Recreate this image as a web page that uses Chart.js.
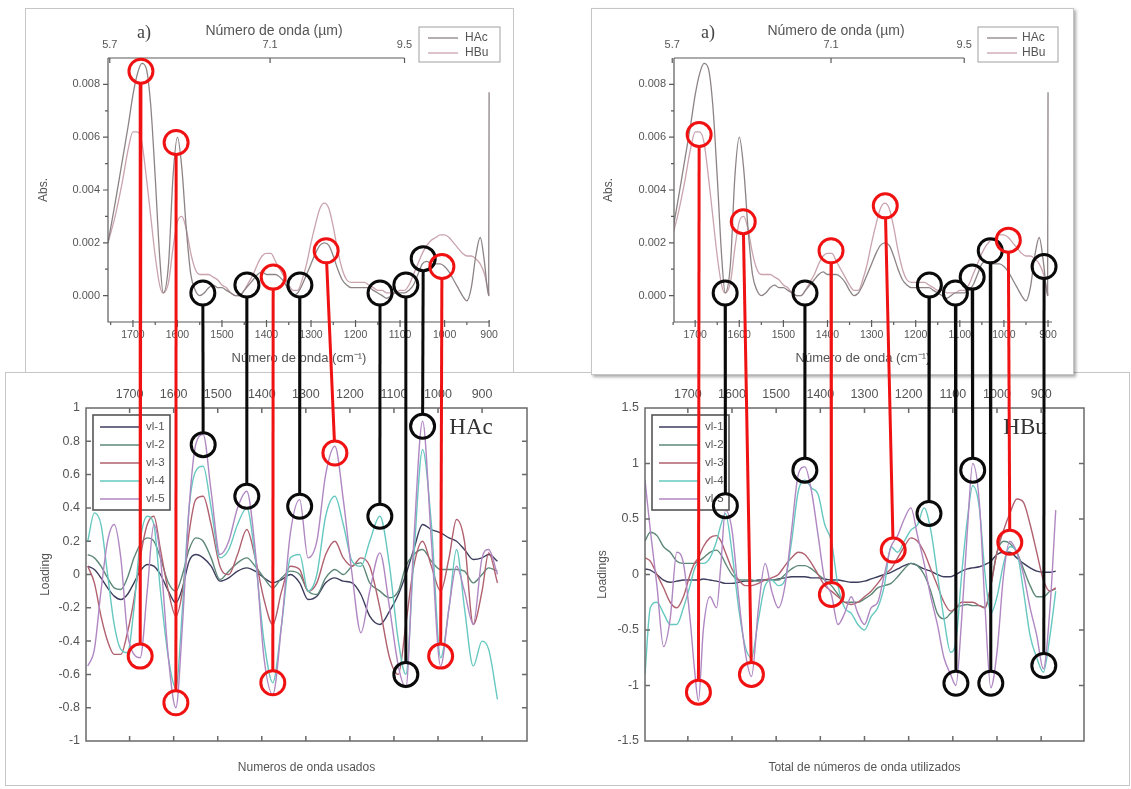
<!DOCTYPE html>
<html>
<head>
<meta charset="utf-8">
<script src="https://cdn.jsdelivr.net/npm/chart.js@4.4.1/dist/chart.umd.min.js"></script>
<style>
html, body { margin: 0; padding: 0; background: #fff; }
body { width: 1131px; height: 789px; position: relative; overflow: hidden; font-family: "Liberation Sans", Arial, sans-serif; }
.box { position: absolute; background: #fff; border: 1px solid #c6c6c6; box-sizing: border-box; }
canvas { position: absolute; z-index: 5; }
</style>
</head>
<body>
<div class="box" style="left:25px;top:8px;width:489px;height:366px;z-index:1"></div>
<div class="box" style="left:5px;top:372px;width:1125px;height:414px;z-index:2"></div>
<div class="box" style="left:591px;top:8px;width:483px;height:367px;z-index:3;box-shadow:2px 2px 3px rgba(0,0,0,0.35)"></div>
<canvas id="cTL" width="488" height="364" style="left:25px;top:8px"></canvas>
<canvas id="cTR" width="482" height="368" style="left:591px;top:8px"></canvas>
<canvas id="cBL" width="555" height="413" style="left:5px;top:372px"></canvas>
<canvas id="cBR" width="569" height="413" style="left:560px;top:372px"></canvas>
<canvas id="cOV" width="1131" height="789" style="left:0;top:0;z-index:10"></canvas>
<script>
// Espectros FTIR (HAc / HBu) y loadings vl-1..vl-5, con marcas de bandas seleccionadas.

// ---- espectros de absorbancia (paneles superiores) ----
var TOP_WN = [1756, 1740, 1725, 1710, 1700, 1690, 1680, 1670, 1660, 1650, 1640, 1632, 1620, 1610, 1600, 1590, 1580, 1570, 1560, 1550,
  1540, 1530, 1520, 1510, 1500, 1490, 1480, 1470, 1460, 1450, 1440, 1430, 1420, 1410, 1400, 1390, 1380, 1370, 1360, 1350,
  1340, 1330, 1320, 1310, 1300, 1290, 1280, 1270, 1260, 1250, 1240, 1230, 1220, 1210, 1200, 1190, 1180, 1170, 1160, 1150,
  1140, 1130, 1120, 1110, 1100, 1090, 1080, 1070, 1060, 1050, 1040, 1030, 1020, 1010, 1000, 990, 980, 970, 960, 950,
  940, 930, 920, 910, 905, 901, 900];
var HAC_ABS = [0.0020, 0.0035, 0.0050, 0.0065, 0.0076, 0.0084, 0.0088, 0.0086, 0.0072, 0.0045, 0.0015, 0.0001, 0.0012, 0.0045, 0.0060, 0.0048, 0.0025, 0.0008, 0.0002, 0.0000,
  0.0001, 0.0003, 0.0004, 0.0003, 0.0003, 0.0002, 0.0001, 0.0000, 0.0000, 0.0002, 0.0004, 0.0006, 0.0008, 0.0009, 0.0008, 0.0008, 0.0008, 0.0007, 0.0005, 0.0002,
  0.0000, 0.0001, 0.0004, 0.0008, 0.0012, 0.0016, 0.0019, 0.0020, 0.0019, 0.0015, 0.0010, 0.0006, 0.0004, 0.0003, 0.0003, 0.0003, 0.0003, 0.0003, 0.0002, 0.0001,
  0.0000, -0.0001, 0.0000, 0.0001, 0.0001, 0.0001, 0.0002, 0.0004, 0.0008, 0.0012, 0.0013, 0.0012, 0.0012, 0.0012, 0.0011, 0.0009, 0.0006, 0.0003, 0.0000, -0.0002,
  0.0003, 0.0015, 0.0022, 0.0012, 0.0004, 0.0000, 0.0077];
var HBU_ABS = [0.0020, 0.0030, 0.0042, 0.0056, 0.0062, 0.0062, 0.0058, 0.0045, 0.0030, 0.0015, 0.0004, 0.0001, 0.0005, 0.0018, 0.0028, 0.0030, 0.0025, 0.0016, 0.0010, 0.0008,
  0.0008, 0.0008, 0.0007, 0.0006, 0.0004, 0.0003, 0.0001, 0.0000, 0.0000, 0.0002, 0.0005, 0.0008, 0.0012, 0.0015, 0.0016, 0.0016, 0.0013, 0.0010, 0.0007, 0.0004,
  0.0002, 0.0002, 0.0006, 0.0012, 0.0020, 0.0027, 0.0033, 0.0035, 0.0033, 0.0026, 0.0017, 0.0010, 0.0006, 0.0005, 0.0005, 0.0005, 0.0005, 0.0004, 0.0003, 0.0002,
  0.0002, 0.0001, 0.0001, 0.0001, 0.0002, 0.0002, 0.0004, 0.0008, 0.0012, 0.0016, 0.0019, 0.0021, 0.0022, 0.0023, 0.0023, 0.0022, 0.0020, 0.0018, 0.0016, 0.0015,
  0.0015, 0.0014, 0.0012, 0.0008, 0.0004, 0.0001, 0.0000];

var SPEC_X_TICKS  = [1700, 1600, 1500, 1400, 1300, 1200, 1100, 1000, 900];
var SPEC_X_MINOR  = [1750, 1650, 1550, 1450, 1350, 1250, 1150, 1050, 950];
var SPEC_Y_TICKS  = [0, 0.002, 0.004, 0.006, 0.008];
var SPEC_Y_MINOR  = [0.001, 0.003, 0.005, 0.007];
var TOP_UM_POS    = [1752, 1392, 1090];
var TOP_UM_LABELS = ['5.7', '7.1', '9.5'];

// ---- loadings HAc ----
var HAC_WN = [1795, 1780, 1765, 1750, 1735, 1720, 1705, 1690, 1676, 1660, 1645, 1630, 1612, 1595, 1580, 1565, 1550, 1533, 1515, 1495,
  1475, 1455, 1434, 1415, 1395, 1375, 1355, 1335, 1314, 1295, 1275, 1255, 1234, 1215, 1195, 1175, 1155, 1132, 1110, 1090,
  1073, 1055, 1035, 1015, 994, 975, 958, 940, 920, 900, 885, 865];
var HAC_VL1 = [0.05, 0.03, -0.02, -0.08, -0.13, -0.15, -0.12, -0.05, 0.02, 0.06, 0.05, 0.0, -0.1, -0.17, -0.08, 0.08, 0.12, 0.1, 0.05, -0.04,
  -0.02, 0.02, 0.04, 0.02, -0.02, -0.05, -0.03, 0.0, -0.05, -0.15, -0.13, -0.05, -0.02, -0.04, -0.05, -0.12, -0.25, -0.3, -0.22, -0.12,
  0.0, 0.15, 0.3, 0.27, 0.25, 0.22, 0.2, 0.15, 0.09, 0.1, 0.12, 0.08];
var HAC_VL2 = [0.12, 0.1, 0.05, -0.02, -0.08, -0.09, -0.02, 0.1, 0.18, 0.22, 0.2, 0.1, -0.05, -0.1, 0.0, 0.15, 0.22, 0.2, 0.1, -0.03,
  0.02, 0.07, 0.1, 0.05, -0.02, -0.08, -0.02, 0.02, 0.0, -0.1, -0.12, -0.02, 0.03, 0.0, 0.05, 0.07, -0.05, -0.1, -0.14, -0.1,
  0.05, 0.12, 0.15, 0.08, 0.03, 0.03, 0.03, 0.02, -0.05, 0.0, 0.04, 0.02];
var HAC_VL3 = [0.05, -0.05, -0.25, -0.4, -0.48, -0.48, -0.35, -0.15, 0.1, 0.3, 0.35, 0.15, -0.1, -0.25, -0.1, 0.25, 0.45, 0.47, 0.3, 0.05,
  0.0, 0.12, 0.27, 0.1, -0.15, -0.3, -0.1, 0.05, 0.03, -0.1, -0.05, 0.12, 0.2, 0.1, 0.05, 0.1, 0.05, -0.2, -0.5, -0.6,
  -0.3, 0.05, 0.2, 0.05, -0.1, 0.1, 0.33, 0.2, -0.3, -0.1, 0.13, -0.05];
var HAC_VL4 = [0.2, 0.37, 0.3, 0.0, -0.3, -0.45, -0.47, -0.2, 0.2, 0.35, 0.3, -0.1, -0.5, -0.68, -0.2, 0.4, 0.62, 0.65, 0.4, 0.1,
  0.15, 0.3, 0.4, 0.1, -0.4, -0.65, -0.3, 0.1, 0.12, -0.1, 0.0, 0.35, 0.47, 0.3, 0.08, 0.05, 0.2, 0.35, 0.05, -0.4,
  -0.6, 0.1, 0.75, 0.3, -0.5, -0.2, 0.15, -0.2, -0.55, -0.4, -0.45, -0.75];
var HAC_VL5 = [-0.55, -0.45, -0.1, 0.2, 0.3, 0.1, -0.35, -0.48, -0.5, -0.1, 0.3, 0.1, -0.5, -0.8, -0.3, 0.4, 0.78, 0.84, 0.5, 0.12,
  0.2, 0.4, 0.5, 0.15, -0.5, -0.72, -0.3, 0.25, 0.45, 0.1, 0.2, 0.6, 0.77, 0.45, 0.0, -0.35, -0.1, 0.13, -0.2, -0.55,
  -0.68, 0.2, 0.92, 0.2, -0.55, -0.2, 0.05, -0.1, -0.3, 0.1, 0.15, 0.0];

// ---- loadings HBu ----
var HBU_WN = [1797, 1785, 1770, 1755, 1740, 1725, 1710, 1695, 1685, 1676, 1665, 1650, 1635, 1625, 1615, 1600, 1585, 1570, 1556, 1540,
  1525, 1510, 1495, 1480, 1465, 1450, 1435, 1420, 1405, 1390, 1375, 1360, 1345, 1330, 1315, 1300, 1285, 1270, 1255, 1240,
  1225, 1210, 1195, 1180, 1165, 1150, 1135, 1120, 1105, 1093, 1080, 1067, 1055, 1040, 1027, 1014, 1000, 985, 971, 955,
  940, 925, 910, 895, 880, 867];
var HBU_VL1 = [0.05, 0.04, 0.0, -0.05, -0.07, -0.06, -0.05, -0.05, -0.05, -0.05, -0.04, -0.05, -0.06, -0.07, -0.08, -0.08, -0.07, -0.06, -0.06, -0.05,
  -0.05, -0.05, -0.04, -0.03, -0.02, -0.02, -0.02, -0.03, -0.03, -0.04, -0.05, -0.05, -0.06, -0.07, -0.07, -0.06, -0.04, -0.02, 0.0, 0.02,
  0.05, 0.08, 0.1, 0.08, 0.05, 0.03, 0.0, -0.02, -0.02, 0.0, 0.03, 0.05, 0.06, 0.07, 0.09, 0.12, 0.18, 0.2, 0.2, 0.15,
  0.1, 0.06, 0.03, 0.02, 0.02, 0.03];
var HBU_VL2 = [0.3, 0.38, 0.35, 0.25, 0.2, 0.12, 0.1, 0.1, 0.1, 0.12, 0.15, 0.2, 0.22, 0.18, 0.1, 0.0, -0.05, -0.05, -0.05, -0.06,
  -0.05, -0.05, -0.05, 0.0, 0.05, 0.08, 0.08, 0.05, 0.0, -0.05, -0.1, -0.18, -0.25, -0.25, -0.25, -0.22, -0.18, -0.12, -0.1, -0.08,
  -0.02, 0.05, 0.1, 0.08, 0.0, -0.15, -0.35, -0.4, -0.35, -0.3, -0.28, -0.27, -0.28, -0.28, -0.3, -0.1, 0.2, 0.3, 0.28, 0.2,
  0.05, -0.1, -0.2, -0.2, -0.15, -0.13];
var HBU_VL3 = [0.15, 0.12, 0.0, -0.12, -0.25, -0.3, -0.2, 0.0, 0.1, 0.15, 0.25, 0.33, 0.35, 0.3, 0.2, 0.05, -0.05, -0.1, -0.1, -0.08,
  -0.05, -0.03, 0.0, 0.08, 0.15, 0.2, 0.18, 0.1, 0.0, -0.1, -0.15, -0.2, -0.25, -0.27, -0.25, -0.2, -0.15, -0.08, 0.0, 0.05,
  0.15, 0.25, 0.33, 0.3, 0.2, 0.05, -0.1, -0.25, -0.33, -0.3, -0.25, -0.25, -0.25, -0.28, -0.3, -0.1, 0.2, 0.4, 0.55, 0.68,
  0.65, 0.45, 0.2, -0.05, -0.15, -0.12];
var HBU_VL4 = [-0.9, -0.3, -0.25, -0.35, -0.45, -0.45, -0.3, -0.1, 0.05, 0.1, 0.1, 0.15, 0.3, 0.45, 0.55, 0.2, -0.3, -0.65, -0.75, -0.4,
  -0.1, -0.05, -0.1, -0.05, 0.3, 0.75, 0.85, 0.78, 0.72, 0.45, 0.3, -0.1, -0.3, -0.35, -0.45, -0.5, -0.38, -0.3, -0.1, 0.25,
  0.2, 0.3, 0.4, 0.45, 0.6, 0.4, 0.0, -0.4, -0.7, -0.6, 0.0, 0.5, 0.8, 0.6, 0.0, -0.35, -0.2, 0.1, 0.25, 0.2,
  -0.15, -0.55, -0.75, -0.88, -0.55, -0.15];
var HBU_VL5 = [0.85, 0.4, -0.1, -0.65, -0.4, 0.2, 0.1, -0.4, -0.85, -1.14, -0.5, -0.2, -0.3, 0.1, 0.58, 0.4, -0.2, -0.7, -0.92, -0.3,
  0.1, -0.15, -0.3, -0.1, 0.4, 0.9, 0.97, 0.75, 0.35, -0.05, -0.18, -0.45, -0.35, -0.2, -0.35, -0.45, -0.3, -0.25, 0.0, 0.25,
  0.35, 0.5, 0.6, 0.35, 0.1, -0.2, -0.45, -0.75, -0.9, -1.0, -0.4, 0.4, 1.0, 0.65, -0.3, -1.02, -0.7, 0.0, 0.3, 0.2,
  0.0, -0.3, -0.55, -0.85, -0.3, 0.58];

var LOAD_X_TICKS = [1700, 1600, 1500, 1400, 1300, 1200, 1100, 1000, 900];
var HAC_Y_TICKS  = [-1, -0.8, -0.6, -0.4, -0.2, 0, 0.2, 0.4, 0.6, 0.8, 1];
var HBU_Y_TICKS  = [-1.5, -1, -0.5, 0, 0.5, 1, 1.5];

// ---- bandas marcadas (círculo arriba en el espectro, círculo abajo en los loadings) ----
var MK_HAC_KIND   = ['r', 'r', 'k', 'k', 'r', 'k', 'r', 'k', 'k', 'k', 'r'];
var MK_HAC_TOP_WN = [1682, 1603, 1543, 1444, 1385, 1325, 1266, 1145, 1087, 1048, 1006];
var MK_HAC_TOP_Y  = [0.0085, 0.0058, 0.0001, 0.0004, 0.0007, 0.0004, 0.0017, 0.0001, 0.0004, 0.0014, 0.0011];
var MK_HAC_BOT_WN = [1676, 1595, 1533, 1434, 1375, 1314, 1234, 1132, 1073, 1035, 994];
var MK_HAC_BOT_Y  = [-0.49, -0.77, 0.78, 0.47, -0.65, 0.41, 0.73, 0.35, -0.60, 0.89, -0.49];

var MK_HBU_KIND   = ['r', 'k', 'r', 'k', 'r', 'r', 'k', 'k', 'k', 'k', 'r', 'k'];
var MK_HBU_TOP_WN = [1691, 1632, 1591, 1451, 1392, 1269, 1169, 1110, 1072, 1031, 990, 909];
var MK_HBU_TOP_Y  = [0.0061, 0.0001, 0.0028, 0.0001, 0.0017, 0.0034, 0.0004, 0.0001, 0.0007, 0.0017, 0.0021, 0.0011];
var MK_HBU_BOT_WN = [1676, 1615, 1556, 1435, 1375, 1235, 1154, 1093, 1055, 1014, 971, 894];
var MK_HBU_BOT_Y  = [-1.06, 0.62, -0.90, 0.94, -0.18, 0.22, 0.55, -0.98, 0.94, -0.98, 0.29, -0.82];

var VL_COLORS = ['#3d3d5e', '#5d8878', '#b0606e', '#66c8c0', '#b087c2'];
var SANS  = '"Liberation Sans", Arial, sans-serif';
var SERIF = '"Liberation Serif", "Times New Roman", serif';
var RED = '#f01212', BLACK = '#0a0a0a';

function pts(xs, ys) {
  return xs.map(function(x, i) { return { x: x, y: ys[i] }; });
}

function fixTicks(values) {
  return function(scale) { scale.ticks = values.map(function(v) { return { value: v }; }); };
}

function plain(v) { return String(v); }
function fitW(w) { return function(s) { s.width = w; }; }
function fitH(h) { return function(s) { s.height = h; }; }

var decoPlugin = {
  id: 'deco',
  afterDatasetsDraw: function(chart, args, o) {
    if (!o || !o.kind) return;
    var ctx = chart.ctx, a = chart.chartArea, sx = chart.scales.x, sy = chart.scales.y;
    ctx.save();
    ctx.strokeStyle = o.axisColor;
    ctx.lineWidth = o.axisWidth;
    ctx.beginPath();
    if (o.kind === 'spec') {
      var x2 = chart.scales.x2;
      ctx.moveTo(a.left, a.top); ctx.lineTo(a.left, a.bottom); ctx.lineTo(a.right, a.bottom);
      ctx.moveTo(a.left, a.top); ctx.lineTo(x2.getPixelForValue(TOP_UM_POS[TOP_UM_POS.length - 1]), a.top);
      TOP_UM_POS.forEach(function(v) { var p = x2.getPixelForValue(v); ctx.moveTo(p, a.top); ctx.lineTo(p, a.top + 5); });
      SPEC_X_TICKS.forEach(function(v) { var p = sx.getPixelForValue(v); ctx.moveTo(p, a.bottom - 2); ctx.lineTo(p, a.bottom + 5); });
      SPEC_X_MINOR.forEach(function(v) { var p = sx.getPixelForValue(v); ctx.moveTo(p, a.bottom); ctx.lineTo(p, a.bottom + 3); });
      SPEC_Y_TICKS.forEach(function(v) { var p = sy.getPixelForValue(v); ctx.moveTo(a.left - 5, p); ctx.lineTo(a.left, p); });
      SPEC_Y_MINOR.forEach(function(v) { var p = sy.getPixelForValue(v); ctx.moveTo(a.left - 3, p); ctx.lineTo(a.left, p); });
    } else {
      ctx.rect(a.left, a.top, a.right - a.left, a.bottom - a.top);
      LOAD_X_TICKS.forEach(function(v) {
        var p = sx.getPixelForValue(v);
        ctx.moveTo(p, a.top); ctx.lineTo(p, a.top + 5);
        ctx.moveTo(p, a.bottom); ctx.lineTo(p, a.bottom - 5);
      });
      o.yTicks.forEach(function(v) {
        var p = sy.getPixelForValue(v);
        ctx.moveTo(a.left, p); ctx.lineTo(a.left + 5, p);
        ctx.moveTo(a.right, p); ctx.lineTo(a.right - 5, p);
      });
    }
    ctx.stroke();

    var L = o.legend;
    if (L) {
      ctx.fillStyle = '#fff';
      ctx.fillRect(L.x, L.y, L.w, L.h);
      ctx.strokeStyle = L.border;
      ctx.lineWidth = L.borderWidth;
      ctx.strokeRect(L.x, L.y, L.w, L.h);
      ctx.font = L.font;
      ctx.textAlign = 'left';
      ctx.textBaseline = 'middle';
      chart.data.datasets.forEach(function(ds, i) {
        var yy = L.y + L.first + i * L.step;
        ctx.strokeStyle = ds.borderColor;
        ctx.lineWidth = 1.3;
        ctx.beginPath(); ctx.moveTo(L.x + L.l0, yy); ctx.lineTo(L.x + L.l1, yy); ctx.stroke();
        ctx.fillStyle = L.color;
        ctx.fillText(ds.label, L.x + L.tx, yy);
      });
    }
    (o.texts || []).forEach(function(t) {
      ctx.font = t.font;
      ctx.fillStyle = t.color;
      ctx.textAlign = 'center';
      ctx.textBaseline = 'middle';
      ctx.fillText(t.text, t.x, t.y);
    });
    ctx.restore();
  }
};

function specChart(id, cfg) {
  var tickFont = { family: SANS, size: 10.5 };
  return new Chart(document.getElementById(id), {
    type: 'line',
    data: {
      datasets: [
        { label: 'HAc', data: pts(TOP_WN, HAC_ABS), borderColor: '#8d8385', borderWidth: 1.3, pointRadius: 0, cubicInterpolationMode: 'monotone' },
        { label: 'HBu', data: pts(TOP_WN, HBU_ABS), borderColor: '#c9a3ad', borderWidth: 1.3, pointRadius: 0, cubicInterpolationMode: 'monotone' }
      ]
    },
    options: {
      responsive: false, animation: false, events: [],
      layout: { padding: { left: 0, top: 0, right: cfg.padR, bottom: 0 } },
      plugins: {
        legend: { display: false }, tooltip: { enabled: false },
        deco: {
          kind: 'spec', axisColor: '#5a5a5a', axisWidth: 1.2,
          legend: { x: cfg.lgX, y: 19, w: cfg.lgW, h: 35, first: 11, step: 15, l0: 9, l1: 39, tx: cfg.lgTx,
                    border: '#a0a0a0', borderWidth: 1, font: '12px ' + SANS, color: '#555' },
          texts: [
            { text: 'a)', x: cfg.aX, y: 25, font: '18px ' + SERIF, color: '#444' },
            { text: 'Número de onda (µm)', x: cfg.tX, y: 23, font: '14px ' + SANS, color: '#555' }
          ]
        }
      },
      scales: {
        x: {
          type: 'linear', reverse: true, min: cfg.xMin, max: cfg.xMax, position: 'bottom',
          afterBuildTicks: fixTicks(SPEC_X_TICKS), afterFit: fitH(cfg.xH),
          grid: { display: false, drawTicks: false }, border: { display: false },
          ticks: { font: tickFont, color: '#555', padding: 7, maxRotation: 0, callback: plain },
          title: { display: true, text: 'Número de onda (cm⁻¹)', font: { family: SANS, size: 13 }, color: '#555', padding: { bottom: cfg.xTitlePad } }
        },
        x2: {
          type: 'linear', reverse: true, min: cfg.xMin, max: cfg.xMax, position: 'top',
          afterBuildTicks: fixTicks(TOP_UM_POS), afterFit: fitH(50),
          grid: { display: false, drawTicks: false }, border: { display: false },
          ticks: { font: { family: SANS, size: 11 }, color: '#555', padding: 6, maxRotation: 0,
                   callback: function(v, i) { return TOP_UM_LABELS[i]; } }
        },
        y: {
          type: 'linear', min: -0.001, max: 0.009,
          afterBuildTicks: fixTicks(SPEC_Y_TICKS), afterFit: fitW(83),
          grid: { display: false, drawTicks: false }, border: { display: false },
          ticks: { font: { family: SANS, size: 11 }, color: '#555', padding: 8,
                   callback: function(v) { return v.toFixed(3); } },
          title: { display: true, text: 'Abs.', font: { family: SANS, size: 12 }, color: '#555', padding: { top: cfg.yTitlePad } }
        }
      }
    },
    plugins: [decoPlugin]
  });
}

function loadChart(id, cfg) {
  var series = cfg.series.map(function(vals, i) {
    return { label: 'vl-' + (i + 1), data: pts(cfg.wn, vals), borderColor: VL_COLORS[i], borderWidth: 1.4,
             pointRadius: 0, cubicInterpolationMode: 'monotone', order: 5 - i };
  });
  return new Chart(document.getElementById(id), {
    type: 'line',
    data: { datasets: series },
    options: {
      responsive: false, animation: false, events: [],
      layout: { padding: { left: 0, top: 0, right: cfg.padR, bottom: 0 } },
      plugins: {
        legend: { display: false }, tooltip: { enabled: false },
        deco: {
          kind: 'load', axisColor: '#6a6a6a', axisWidth: 1.5, yTicks: cfg.yTicks,
          legend: { x: cfg.yW + 7, y: 43, w: 77, h: 95, first: 12, step: 18, l0: 7, l1: 48, tx: 53,
                    border: '#555', borderWidth: 1.6, font: '11.5px ' + SANS, color: '#555' },
          texts: [ { text: cfg.name, x: cfg.nameX, y: 56, font: '23px ' + SERIF, color: '#333' } ]
        }
      },
      scales: {
        x: {
          type: 'linear', reverse: true, min: cfg.xMin, max: cfg.xMax, position: 'bottom',
          afterBuildTicks: fixTicks(LOAD_X_TICKS), afterFit: fitH(44),
          grid: { display: false, drawTicks: false }, border: { display: false },
          ticks: { display: false },
          title: { display: true, text: cfg.xTitle, font: { family: SANS, size: 12 }, color: '#555', padding: { bottom: 10 } }
        },
        x2: {
          type: 'linear', reverse: true, min: cfg.xMin, max: cfg.xMax, position: 'top',
          afterBuildTicks: fixTicks(LOAD_X_TICKS), afterFit: fitH(36),
          grid: { display: false, drawTicks: false }, border: { display: false },
          ticks: { font: { family: SANS, size: 12.5 }, color: '#555', padding: 6, maxRotation: 0, callback: plain }
        },
        y: {
          type: 'linear', min: cfg.yTicks[0], max: cfg.yTicks[cfg.yTicks.length - 1],
          afterBuildTicks: fixTicks(cfg.yTicks), afterFit: fitW(cfg.yW),
          grid: { display: false, drawTicks: false }, border: { display: false },
          ticks: { font: { family: SANS, size: 12.5 }, color: '#555', padding: 6,
                   callback: function(v) { return String(Math.round(v * 10) / 10); } },
          title: { display: true, text: cfg.yTitle, font: { family: SANS, size: 12 }, color: '#555', padding: { top: cfg.yTitlePad } }
        }
      }
    },
    plugins: [decoPlugin]
  });
}

var chTL = specChart('cTL', { padR: 23, xH: 50, xMin: 898, xMax: 1756, lgX: 394, lgW: 81, lgTx: 46, aX: 119, tX: 249, xTitlePad: 6, yTitlePad: 11 });
var chTR = specChart('cTR', { padR: 21, xH: 54, xMin: 891, xMax: 1748, lgX: 387, lgW: 80, lgTx: 44, aX: 117, tX: 245, xTitlePad: 10, yTitlePad: 10 });
var chBL = loadChart('cBL', { wn: HAC_WN, series: [HAC_VL1, HAC_VL2, HAC_VL3, HAC_VL4, HAC_VL5], yTicks: HAC_Y_TICKS,
  padR: 33, yW: 81, xMin: 798, xMax: 1799, name: 'HAc', nameX: 466, xTitle: 'Numeros de onda usados', yTitle: 'Loading', yTitlePad: 33 });
var chBR = loadChart('cBR', { wn: HBU_WN, series: [HBU_VL1, HBU_VL2, HBU_VL3, HBU_VL4, HBU_VL5], yTicks: HBU_Y_TICKS,
  padR: 45, yW: 85, xMin: 803, xMax: 1797, name: 'HBu', nameX: 465, xTitle: 'Total de números de onda utilizados', yTitle: 'Loadings', yTitlePad: 35 });

// ---- capa de marcas: posiciones sacadas de las escalas de cada gráfico ----
function pagePoint(chart, wn, v) {
  var c = chart.canvas;
  return { x: c.offsetLeft + chart.scales.x.getPixelForValue(wn), y: c.offsetTop + chart.scales.y.getPixelForValue(v) };
}

var R = 12;
var redPts = [], blackPts = [], links = [];

function addMarks(top, bot, kinds, tWn, tY, bWn, bY) {
  kinds.forEach(function(k, i) {
    var p1 = pagePoint(top, tWn[i], tY[i]);
    var p2 = pagePoint(bot, bWn[i], bY[i]);
    (k === 'r' ? redPts : blackPts).push(p1, p2);
    var dx = p2.x - p1.x, dy = p2.y - p1.y, len = Math.sqrt(dx * dx + dy * dy);
    var ux = dx / len, uy = dy / len;
    links.push({
      color: k === 'r' ? RED : BLACK,
      data: [{ x: p1.x + ux * R, y: p1.y + uy * R }, { x: p2.x - ux * R, y: p2.y - uy * R }]
    });
  });
}

addMarks(chTL, chBL, MK_HAC_KIND, MK_HAC_TOP_WN, MK_HAC_TOP_Y, MK_HAC_BOT_WN, MK_HAC_BOT_Y);
addMarks(chTR, chBR, MK_HBU_KIND, MK_HBU_TOP_WN, MK_HBU_TOP_Y, MK_HBU_BOT_WN, MK_HBU_BOT_Y);

var ovSets = [
  { data: redPts, showLine: false, pointRadius: R, pointBorderWidth: 3, pointBorderColor: RED, pointBackgroundColor: 'rgba(0,0,0,0)' },
  { data: blackPts, showLine: false, pointRadius: R, pointBorderWidth: 3, pointBorderColor: BLACK, pointBackgroundColor: 'rgba(0,0,0,0)' }
].concat(links.map(function(l) {
  return { data: l.data, showLine: true, borderColor: l.color, borderWidth: 3, pointRadius: 0 };
}));

new Chart(document.getElementById('cOV'), {
  type: 'scatter',
  data: { datasets: ovSets },
  options: {
    responsive: false, animation: false, events: [],
    layout: { padding: 0, autoPadding: false },
    plugins: { legend: { display: false }, tooltip: { enabled: false } },
    scales: {
      x: { type: 'linear', min: 0, max: 1131, display: false },
      y: { type: 'linear', min: 0, max: 789, reverse: true, display: false }
    }
  }
});
</script>
</body>
</html>
